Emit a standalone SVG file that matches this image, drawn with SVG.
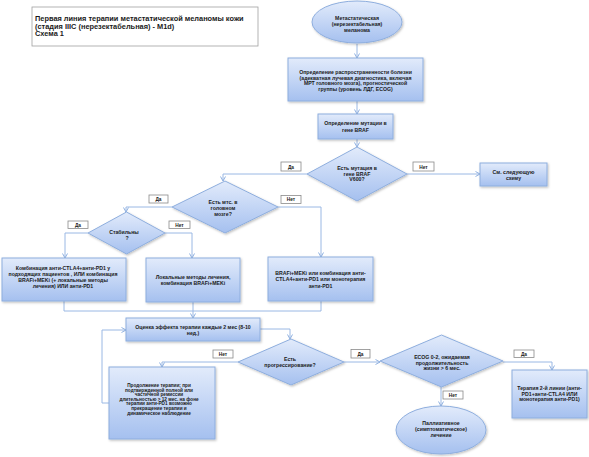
<svg xmlns="http://www.w3.org/2000/svg" width="589" height="457" viewBox="0 0 589 457">
<defs>
<linearGradient id="g" x1="0" y1="0" x2="0" y2="1">
<stop offset="0" stop-color="#e2ebfb"/>
<stop offset="1" stop-color="#a5c0ef"/>
</linearGradient>
<filter id="sh" x="-10%" y="-10%" width="120%" height="130%">
<feDropShadow dx="1" dy="1.2" stdDeviation="0.8" flood-color="#000" flood-opacity="0.25"/>
</filter>
<marker id="ar" markerWidth="6" markerHeight="6" refX="5" refY="3" orient="auto" markerUnits="userSpaceOnUse">
<path d="M0.5,0.5 L5,3 L0.5,5.5" fill="none" stroke="#8fb0e0" stroke-width="1"/>
</marker>
<style>
.n{fill:url(#g);stroke:#8eaede;stroke-width:1;filter:url(#sh)}
.lb{fill:#fff;stroke:#8a8a8a;stroke-width:0.8}
.c{fill:none;stroke:#9ab8e4;stroke-width:1}
.a{marker-end:url(#ar)}
text{font-family:"Liberation Sans",Arial,sans-serif;font-weight:bold;fill:#1a1a1a;text-anchor:middle}
.t{font-size:5.2px}
.s{font-size:4.7px}
.l{font-size:4.8px}
.h{font-size:7.4px;text-anchor:start}
</style>
</defs>

<g id="title">
<rect x="32" y="7" width="226" height="39" fill="#fff" stroke="#a0a0a0" stroke-width="0.8"/>
<text class="h" x="35" y="20.5">Первая линия терапии метастатической меланомы кожи</text>
<text class="h" x="35" y="28.5">(стадия IIIC (нерезектабельная) - M1d)</text>
<text class="h" x="35" y="36.3">Схема 1</text>
</g>

<g id="connectors">
<path class="c a" d="M357,44 V58"/>
<path class="c a" d="M357,101 V114"/>
<path class="c a" d="M357,139 V147"/>
<path class="c a" d="M407,174 H480"/>
<path class="c a" d="M307,174 H223 V181"/>
<path class="c a" d="M278,207 H321 V257"/>
<path class="c a" d="M172,207 H126 V212"/>
<path class="c a" d="M165,233 H192 V258"/>
<path class="c a" d="M88,233 H65 V258"/>
<path class="c" d="M64,301 V311 H321 V301"/>
<path class="c a" d="M193,302 V318"/>
<path class="c a" d="M260,329 H290 V339"/>
<path class="c a" d="M238,362 H162 V367"/>
<path class="c a" d="M109,403 H102 V330 H126"/>
<path class="c a" d="M344,362 H380"/>
<path class="c a" d="M503,362 H552 V370"/>
<path class="c a" d="M441,387 V406"/>
</g>

<g id="labels">
<rect class="lb" x="281" y="162" width="20" height="9"/><text class="l" x="291" y="168.5">Да</text>
<rect class="lb" x="413" y="162" width="21" height="9"/><text class="l" x="423.5" y="168.5">Нет</text>
<rect class="lb" x="149" y="195" width="19" height="8"/><text class="l" x="158.5" y="200.8">Да</text>
<rect class="lb" x="281" y="195.5" width="20" height="8"/><text class="l" x="291" y="201.3">Нет</text>
<rect class="lb" x="68" y="221" width="20" height="7.5"/><text class="l" x="78" y="226.6">Да</text>
<rect class="lb" x="169" y="221" width="21" height="7.5"/><text class="l" x="179.5" y="226.6">Нет</text>
<rect class="lb" x="213" y="350" width="20" height="8"/><text class="l" x="223" y="355.8">Нет</text>
<rect class="lb" x="351" y="349.5" width="19" height="8.5"/><text class="l" x="360.5" y="355.6">Да</text>
<rect class="lb" x="514" y="350" width="20" height="7.5"/><text class="l" x="524" y="355.6">Да</text>
<rect class="lb" x="443" y="391" width="20" height="8"/><text class="l" x="453" y="396.8">Нет</text>
</g>

<g id="start">
<ellipse class="n" cx="357" cy="22" rx="45" ry="21"/>
<text class="t" x="357" y="19.5">Метастатическая</text>
<text class="t" x="357" y="25.5">(нерезектабельная)</text>
<text class="t" x="357" y="31.5">меланома</text>
</g>

<g id="staging">
<rect class="n" x="288" y="58" width="135" height="43"/>
<text class="t" x="355.5" y="74">Определение распространенности болезни</text>
<text class="t" x="355.5" y="79.5">(адекватная лучевая диагностика, включая</text>
<text class="t" x="355.5" y="85">МРТ головного мозга), прогностической</text>
<text class="t" x="355.5" y="90.5">группы (уровень  ЛДГ, ECOG)</text>
</g>

<g id="braf-test">
<rect class="n" x="318" y="114" width="75" height="25"/>
<text class="t" x="355.5" y="125">Определение мутации в</text>
<text class="t" x="355.5" y="132">гене BRAF</text>
</g>

<g id="braf-q">
<polygon class="n" points="357,147 407,174 357,201 307,174"/>
<text class="t" x="357" y="170">Есть мутация в</text>
<text class="t" x="357" y="175.5">гене BRAF</text>
<text class="t" x="357" y="181">V600?</text>
</g>

<g id="next-scheme">
<rect class="n" x="480" y="163" width="67" height="23"/>
<text class="t" x="513.5" y="174">См. следующую</text>
<text class="t" x="513.5" y="180">схему</text>
</g>

<g id="brain-q">
<polygon class="n" points="225,181 278,207 225,233 172,207"/>
<text class="t" x="223" y="204">Есть мтс. в</text>
<text class="t" x="223" y="210">головном</text>
<text class="t" x="223" y="215.5">мозге?</text>
</g>

<g id="stable-q">
<polygon class="n" points="126.5,212 165,233 126.5,254 88,233"/>
<text class="t" x="124" y="234">Стабильны</text>
<text class="t" x="127" y="240">?</text>
</g>

<g id="combo">
<rect class="n" x="2" y="258" width="124" height="43"/>
<text class="t" x="63" y="270">Комбинация анти-CTLA4+анти-PD1 у</text>
<text class="t" x="63" y="276">подходящих пациентов , ИЛИ комбинация</text>
<text class="t" x="63" y="282">BRAFi+MEKi (+ локальные методы</text>
<text class="t" x="63" y="288">лечения) ИЛИ анти-PD1</text>
</g>

<g id="local">
<rect class="n" x="146" y="258" width="94" height="44"/>
<text class="t" x="193" y="279">Локальные методы лечения,</text>
<text class="t" x="193" y="285">комбинация BRAFi+MEKi</text>
</g>

<g id="braf-meki">
<rect class="n" x="268" y="257" width="105" height="44"/>
<text class="t" x="320.5" y="275">BRAFi+MEKi или комбинация анти-</text>
<text class="t" x="320.5" y="281">CTLA4+анти-PD1 или монотерапия</text>
<text class="t" x="320.5" y="287.5">анти-PD1</text>
</g>

<g id="assess">
<rect class="n" x="126" y="318" width="134" height="23"/>
<text class="t" x="193" y="329">Оценка эффекта терапии каждые 2 мес (8-10</text>
<text class="t" x="193" y="335">нед.)</text>
</g>

<g id="progress-q">
<polygon class="n" points="291,339 344,362 291,385 238,362"/>
<text class="t" x="290" y="361">Есть</text>
<text class="t" x="290" y="366.5">прогрессирование?</text>
</g>

<g id="continue">
<rect class="n" x="109" y="367" width="106" height="72"/>
<text class="s" x="159" y="387">Продолжение терапии; при</text>
<text class="s" x="159" y="391.6">подтвержденной полной или</text>
<text class="s" x="159" y="396.2">частичной ремиссии</text>
<text class="s" x="159" y="400.8">длительностью &gt; 12 мес. на фоне</text>
<text class="s" x="159" y="405.4">терапии анти-PD1 возможно</text>
<text class="s" x="159" y="410">прекращение терапии и</text>
<text class="s" x="159" y="414.6">динамическое наблюдение</text>
</g>

<g id="ecog-q">
<polygon class="n" points="441.5,335 503,361 441.5,387 380,361"/>
<text class="t" x="442" y="359">ECOG 0-2, ожидаемая</text>
<text class="t" x="442" y="364.5">продолжительность</text>
<text class="t" x="442" y="370">жизни &gt; 6 мес.</text>
</g>

<g id="second-line">
<rect class="n" x="512" y="370" width="75" height="48"/>
<text class="t" x="549.5" y="390">Терапия 2-й линии (анти-</text>
<text class="t" x="549.5" y="395.5">PD1+анти-CTLA4 ИЛИ</text>
<text class="t" x="549.5" y="401">монотерапия  анти-PD1)</text>
</g>

<g id="palliative">
<ellipse class="n" cx="441" cy="430" rx="45" ry="24"/>
<text class="t" x="441" y="425">Паллиативное</text>
<text class="t" x="441" y="430.5">(симптоматическое)</text>
<text class="t" x="441" y="437">лечение</text>
</g>
</svg>
